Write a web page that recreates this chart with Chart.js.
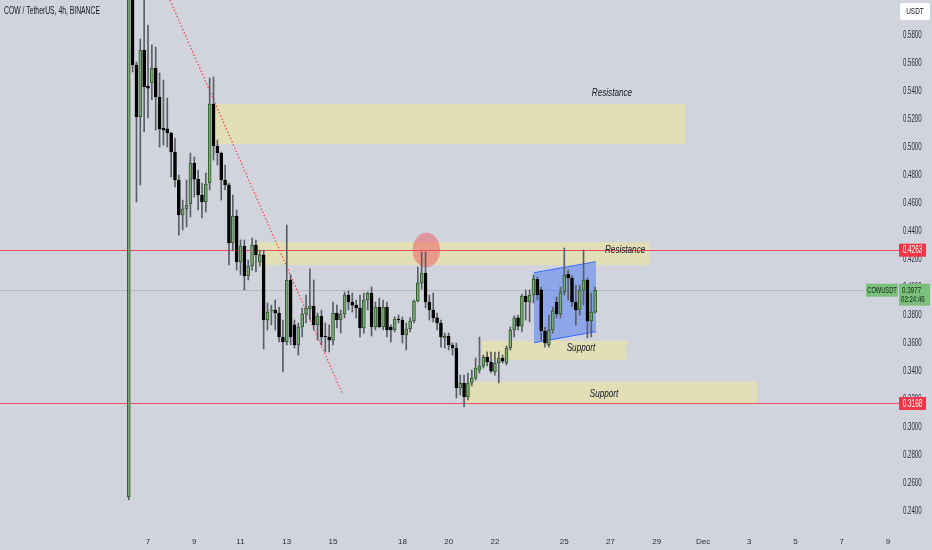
<!DOCTYPE html>
<html>
<head>
<meta charset="utf-8">
<script src="https://cdn.jsdelivr.net/npm/chart.js@4.4.1/dist/chart.umd.min.js"></script>
<style>
html, body { margin: 0; padding: 0; background: #d1d4dc; }
canvas { display: block; }
</style>
</head>
<body>
<canvas id="cowChart" width="932" height="550"></canvas>
<script>
// COW / TetherUS 4h candles. First candle opens Nov 6 04:00
const firstCandleDay = 6 + 4 / 24;
const candleStep = 4 / 24;

const opens = [0.2500, 0.6500, 0.5586, 0.5214, 0.5693, 0.5436, 0.5457, 0.5564, 0.5357, 0.5136,
  0.5129, 0.5100, 0.4964, 0.4764, 0.4514, 0.4557, 0.4593, 0.4886, 0.4771, 0.4657,
  0.4607, 0.4743, 0.5307, 0.5007, 0.4957, 0.4764, 0.4729, 0.4314, 0.4507, 0.4179,
  0.4293, 0.4079, 0.4150, 0.4300, 0.4179, 0.4229, 0.3764, 0.3829, 0.3836, 0.3814,
  0.3643, 0.3607, 0.4050, 0.3729, 0.3586, 0.3714, 0.3807, 0.3843, 0.3864, 0.3729,
  0.3793, 0.3650, 0.3643, 0.3621, 0.3814, 0.3764, 0.3807, 0.3943, 0.3893, 0.3871,
  0.3850, 0.3707, 0.3907, 0.3957, 0.3714, 0.3857, 0.3714, 0.3857, 0.3714, 0.3693,
  0.3771, 0.3764, 0.3657, 0.3700, 0.3757, 0.3900, 0.4029, 0.4100, 0.3893, 0.3836,
  0.3779, 0.3743, 0.3636, 0.3650, 0.3586, 0.3564, 0.3279, 0.3314, 0.3214, 0.3314,
  0.3350, 0.3407, 0.3436, 0.3500, 0.3464, 0.3393, 0.3457, 0.3493, 0.3457, 0.3564,
  0.3693, 0.3779, 0.3721, 0.3936, 0.3893, 0.3943, 0.4057, 0.3979, 0.3686, 0.3586,
  0.3693, 0.3893, 0.3807, 0.3964, 0.4093, 0.4064, 0.3893, 0.3836, 0.3979, 0.4050,
  0.3757, 0.3821];
const highs = [0.7000, 0.6800, 0.5607, 0.5771, 0.6121, 0.5871, 0.5729, 0.5714, 0.5529, 0.5479,
  0.5350, 0.5107, 0.5064, 0.4800, 0.4621, 0.4764, 0.4957, 0.4929, 0.4836, 0.4743,
  0.4814, 0.5493, 0.5500, 0.5050, 0.4964, 0.4871, 0.4743, 0.4657, 0.4550, 0.4336,
  0.4336, 0.4193, 0.4350, 0.4336, 0.4264, 0.4264, 0.3886, 0.3871, 0.3907, 0.3857,
  0.3764, 0.4443, 0.4086, 0.3764, 0.3743, 0.3850, 0.3943, 0.4129, 0.4050, 0.3814,
  0.3836, 0.3743, 0.3729, 0.3893, 0.3871, 0.3836, 0.3964, 0.3971, 0.3957, 0.3907,
  0.3943, 0.3957, 0.3964, 0.4000, 0.3893, 0.3921, 0.3907, 0.3893, 0.3729, 0.3786,
  0.3800, 0.3786, 0.3743, 0.3779, 0.3907, 0.4143, 0.4250, 0.4250, 0.3943, 0.3957,
  0.3814, 0.3764, 0.3671, 0.3671, 0.3600, 0.3600, 0.3371, 0.3371, 0.3386, 0.3407,
  0.3493, 0.3643, 0.3514, 0.3536, 0.3536, 0.3536, 0.3536, 0.3514, 0.3579, 0.3714,
  0.3793, 0.3800, 0.3950, 0.3979, 0.3979, 0.4086, 0.4071, 0.4000, 0.3714, 0.3800,
  0.3857, 0.3929, 0.4000, 0.4279, 0.4121, 0.4079, 0.4014, 0.4014, 0.4264, 0.4064,
  0.3957, 0.4000];
const lows = [0.2479, 0.5536, 0.4607, 0.4729, 0.5107, 0.5207, 0.5336, 0.5121, 0.5000, 0.5014,
  0.5000, 0.4786, 0.4714, 0.4371, 0.4407, 0.4429, 0.4500, 0.4643, 0.4550, 0.4493,
  0.4536, 0.4693, 0.4907, 0.4871, 0.4621, 0.4693, 0.4157, 0.4264, 0.4121, 0.4086,
  0.3979, 0.4050, 0.4121, 0.4107, 0.4150, 0.3557, 0.3693, 0.3729, 0.3693, 0.3607,
  0.3393, 0.3586, 0.3586, 0.3564, 0.3514, 0.3643, 0.3743, 0.3764, 0.3693, 0.3621,
  0.3586, 0.3536, 0.3536, 0.3586, 0.3707, 0.3671, 0.3779, 0.3836, 0.3821, 0.3779,
  0.3643, 0.3671, 0.3836, 0.3650, 0.3693, 0.3707, 0.3693, 0.3643, 0.3607, 0.3679,
  0.3743, 0.3600, 0.3550, 0.3679, 0.3743, 0.3893, 0.3986, 0.3850, 0.3764, 0.3750,
  0.3693, 0.3571, 0.3564, 0.3550, 0.3514, 0.3207, 0.3229, 0.3143, 0.3193, 0.3293,
  0.3336, 0.3386, 0.3421, 0.3436, 0.3386, 0.3371, 0.3314, 0.3457, 0.3443, 0.3550,
  0.3643, 0.3693, 0.3679, 0.3764, 0.3750, 0.3886, 0.3907, 0.3621, 0.3571, 0.3571,
  0.3671, 0.3779, 0.3779, 0.3943, 0.3907, 0.3857, 0.3729, 0.3800, 0.3871, 0.3636,
  0.3643, 0.3814];
const closes = [0.6500, 0.5586, 0.5214, 0.5693, 0.5429, 0.5421, 0.5564, 0.5357, 0.5129, 0.5121,
  0.5100, 0.4964, 0.4764, 0.4514, 0.4557, 0.4586, 0.4886, 0.4771, 0.4657, 0.4607,
  0.4736, 0.5307, 0.5007, 0.4957, 0.4764, 0.4729, 0.4314, 0.4507, 0.4179, 0.4293,
  0.4079, 0.4150, 0.4300, 0.4229, 0.4229, 0.3764, 0.3821, 0.3836, 0.3814, 0.3643,
  0.3607, 0.4050, 0.3643, 0.3586, 0.3714, 0.3807, 0.3850, 0.3864, 0.3729, 0.3793,
  0.3643, 0.3643, 0.3621, 0.3814, 0.3764, 0.3807, 0.3943, 0.3893, 0.3871, 0.3850,
  0.3707, 0.3907, 0.3957, 0.3714, 0.3857, 0.3714, 0.3857, 0.3693, 0.3693, 0.3771,
  0.3764, 0.3657, 0.3700, 0.3757, 0.3900, 0.4029, 0.4100, 0.3893, 0.3836, 0.3779,
  0.3743, 0.3643, 0.3650, 0.3586, 0.3564, 0.3279, 0.3314, 0.3214, 0.3314, 0.3350,
  0.3421, 0.3436, 0.3500, 0.3464, 0.3400, 0.3457, 0.3493, 0.3471, 0.3564, 0.3693,
  0.3779, 0.3721, 0.3936, 0.3893, 0.3943, 0.4057, 0.3943, 0.3686, 0.3600, 0.3693,
  0.3829, 0.3807, 0.3964, 0.4086, 0.4064, 0.3893, 0.3836, 0.3979, 0.4050, 0.3757,
  0.3821, 0.3977];

// axis ticks
const priceTicks = [0.24, 0.26, 0.28, 0.30, 0.32, 0.34, 0.36, 0.38, 0.40, 0.42, 0.44, 0.46, 0.48, 0.50, 0.52, 0.54, 0.56, 0.58];
const dayTicks = [7, 9, 11, 13, 15, 18, 20, 22, 25, 27, 29, 31, 33, 35, 37, 39];
const dayLabels = ["7", "9", "11", "13", "15", "18", "20", "22", "25", "27", "29", "Dec", "3", "5", "7", "9"];

// drawings (x in days of Nov, y in price)
const zones = [
  {x0: 9.81, x1: 30.22, top: 0.5307, bottom: 0.5021},
  {x0: 11.76, x1: 28.71, top: 0.4321, bottom: 0.4157},
  {x0: 21.43, x1: 27.70, top: 0.3616, bottom: 0.3479},
  {x0: 20.75, x1: 33.34, top: 0.3324, bottom: 0.3164}
];
const zoneLabels = [
  {text: "Resistance", x: 27.06, y: 0.5386},
  {text: "Resistance", x: 27.63, y: 0.4264},
  {text: "Support", x: 25.72, y: 0.3564},
  {text: "Support", x: 26.72, y: 0.3236}
];
const levelLines = [0.4263, 0.3168];
const lastPrice = 0.3977;
const trendLine = [{x: 7.95, y: 0.605}, {x: 15.39, y: 0.3243}];
const channel = [{x: 23.69, y: 0.4102}, {x: 26.37, y: 0.4181}, {x: 26.37, y: 0.3681}, {x: 23.69, y: 0.3602}];
const topCircle = {x0: 18.44, x1: 19.63, top: 0.4388, bottom: 0.4141};

const UI_FONT = '"Liberation Sans", "DejaVu Sans", sans-serif';

const candleTimes = opens.map((o, i) => firstCandleDay + i * candleStep);
const isUp = i => closes[i] >= opens[i];

// TradingView text is narrow, so squeeze it horizontally
function narrowText(ctx, text, x, y, align, sx) {
  ctx.save();
  ctx.translate(x, y);
  ctx.scale(sx, 1);
  ctx.textAlign = align;
  ctx.fillText(text, 0, 0);
  ctx.restore();
}

const overlay = {
  id: "overlay",
  beforeDraw(chart) {
    const ctx = chart.ctx;
    ctx.save();
    ctx.fillStyle = "#d1d4dc";
    ctx.fillRect(0, 0, chart.width, chart.height);
    ctx.restore();
  },
  beforeDatasetsDraw(chart) {
    const ctx = chart.ctx, a = chart.chartArea;
    const px = v => chart.scales.x.getPixelForValue(v);
    const py = v => chart.scales.y.getPixelForValue(v);
    ctx.save();
    ctx.beginPath();
    ctx.rect(a.left, a.top, a.right - a.left, a.bottom - a.top);
    ctx.clip();

    ctx.fillStyle = "rgba(245,235,140,0.48)";
    zones.forEach(z => {
      ctx.fillRect(px(z.x0), py(z.top), px(z.x1) - px(z.x0), py(z.bottom) - py(z.top));
    });

    // current price line
    ctx.strokeStyle = "rgba(120,123,134,0.3)";
    ctx.lineWidth = 1;
    ctx.beginPath();
    ctx.moveTo(a.left, Math.round(py(lastPrice)) + 0.5);
    ctx.lineTo(866, Math.round(py(lastPrice)) + 0.5);
    ctx.stroke();

    // ellipse at the rejection
    ctx.fillStyle = "rgba(242,54,69,0.4)";
    ctx.beginPath();
    ctx.ellipse((px(topCircle.x0) + px(topCircle.x1)) / 2, (py(topCircle.top) + py(topCircle.bottom)) / 2,
      (px(topCircle.x1) - px(topCircle.x0)) / 2, (py(topCircle.bottom) - py(topCircle.top)) / 2, 0, 0, Math.PI * 2);
    ctx.fill();

    // rising channel
    ctx.fillStyle = "rgba(41,98,255,0.4)";
    ctx.strokeStyle = "rgba(41,98,255,0.9)";
    ctx.lineWidth = 1;
    ctx.beginPath();
    channel.forEach((p, i) => i ? ctx.lineTo(px(p.x), py(p.y)) : ctx.moveTo(px(p.x), py(p.y)));
    ctx.closePath();
    ctx.fill();
    ctx.beginPath();
    ctx.moveTo(px(channel[0].x), py(channel[0].y));
    ctx.lineTo(px(channel[1].x), py(channel[1].y));
    ctx.moveTo(px(channel[3].x), py(channel[3].y));
    ctx.lineTo(px(channel[2].x), py(channel[2].y));
    ctx.stroke();

    // dotted trend line
    ctx.strokeStyle = "rgba(242,54,69,0.85)";
    ctx.lineWidth = 1.3;
    ctx.setLineDash([1.5, 2]);
    ctx.beginPath();
    ctx.moveTo(px(trendLine[0].x), py(trendLine[0].y));
    ctx.lineTo(px(trendLine[1].x), py(trendLine[1].y));
    ctx.stroke();
    ctx.setLineDash([]);
    ctx.restore();

    // level lines run under the price scale tags
    ctx.save();
    ctx.strokeStyle = "#ef4f5c";
    ctx.lineWidth = 1;
    levelLines.forEach(v => {
      const y = Math.round(py(v)) + 0.5;
      ctx.beginPath();
      ctx.moveTo(a.left, y);
      ctx.lineTo(a.right + 4, y);
      ctx.stroke();
    });
    ctx.restore();
  },
  afterDraw(chart) {
    const ctx = chart.ctx, a = chart.chartArea;
    const px = v => chart.scales.x.getPixelForValue(v);
    const py = v => chart.scales.y.getPixelForValue(v);
    ctx.save();
    ctx.textBaseline = "middle";

    // price scale labels, positioned by the y scale
    ctx.fillStyle = "#2a2e39";
    ctx.font = "10px " + UI_FONT;
    chart.scales.y.ticks.forEach(t => narrowText(ctx, t.value.toFixed(4), a.right + 8, py(t.value), "left", 0.61));

    ctx.fillStyle = "#131722";
    ctx.font = "italic 11px " + UI_FONT;
    zoneLabels.forEach(l => narrowText(ctx, l.text, px(l.x), py(l.y), "center", 0.74));

    ctx.font = "10px " + UI_FONT;
    narrowText(ctx, "COW / TetherUS, 4h, BINANCE", 4, 11, "left", 0.68);

    // USDT box
    ctx.fillStyle = "#ffffff";
    ctx.beginPath();
    ctx.roundRect(900, 3, 30, 17, 2);
    ctx.fill();
    ctx.fillStyle = "#131722";
    ctx.font = "9px " + UI_FONT;
    narrowText(ctx, "USDT", 915, 12, "center", 0.72);

    // level tags
    ctx.font = "10px " + UI_FONT;
    levelLines.forEach(v => {
      const y = py(v);
      ctx.fillStyle = "#f23645";
      ctx.fillRect(a.right + 4, y - 6.5, 27, 13);
      ctx.fillStyle = "#ffffff";
      narrowText(ctx, v.toFixed(4), a.right + 17.5, y + 0.5, "center", 0.64);
    });

    // last price tags
    const yl = py(lastPrice);
    ctx.fillStyle = "#7cbf7c";
    ctx.fillRect(a.right + 4, yl - 6.5, 31, 22);
    ctx.fillRect(866, yl - 6.5, 32, 13);
    ctx.fillStyle = "#0f2a10";
    ctx.font = "9.5px " + UI_FONT;
    narrowText(ctx, "COWUSDT", 882, yl + 0.5, "center", 0.6);
    narrowText(ctx, lastPrice.toFixed(4), a.right + 7, yl, "left", 0.66);
    narrowText(ctx, "02:24:46", a.right + 6, yl + 9, "left", 0.64);
    ctx.restore();
  }
};

new Chart(document.getElementById("cowChart"), {
  type: "bar",
  data: {
    datasets: [{
      label: "wick",
      data: candleTimes.map((t, i) => ({x: t, y: [lows[i], highs[i]]})),
      backgroundColor: "#5a5e66",
      barThickness: 1,
      grouped: false,
      order: 2
    }, {
      label: "body",
      data: candleTimes.map((t, i) => ({x: t, y: [opens[i], closes[i]]})),
      backgroundColor: c => isUp(c.dataIndex) ? "#7aa874" : "#050505",
      borderColor: c => isUp(c.dataIndex) ? "#2f5a2e" : "#000000",
      borderWidth: 1,
      borderSkipped: false,
      barThickness: 3,
      minBarLength: 1,
      grouped: false,
      order: 1
    }]
  },
  options: {
    responsive: false,
    devicePixelRatio: 1,
    animation: false,
    layout: {padding: 0},
    plugins: {legend: {display: false}, tooltip: {enabled: false}},
    scales: {
      x: {
        type: "linear",
        offset: false,
        min: 0.6,
        max: 39.3,
        grid: {display: false, drawTicks: false},
        border: {display: false},
        afterFit: s => { s.height = 22; s.paddingLeft = 0; s.paddingRight = 0; },
        afterBuildTicks: s => { s.ticks = dayTicks.map(v => ({value: v})); },
        ticks: {
          autoSkip: false,
          maxRotation: 0,
          padding: 9,
          color: "#2a2e39",
          font: {family: UI_FONT, size: 8},
          callback: v => dayLabels[dayTicks.indexOf(v)]
        }
      },
      y: {
        position: "right",
        min: 0.605 - 528 / 1400,
        max: 0.605,
        grid: {display: false, drawTicks: false},
        border: {display: false},
        afterFit: s => { s.width = 37; s.paddingTop = 0; s.paddingBottom = 0; },
        afterBuildTicks: s => { s.ticks = priceTicks.map(v => ({value: v})); },
        ticks: {display: false}
      }
    }
  },
  plugins: [overlay]
});
</script>
</body>
</html>
